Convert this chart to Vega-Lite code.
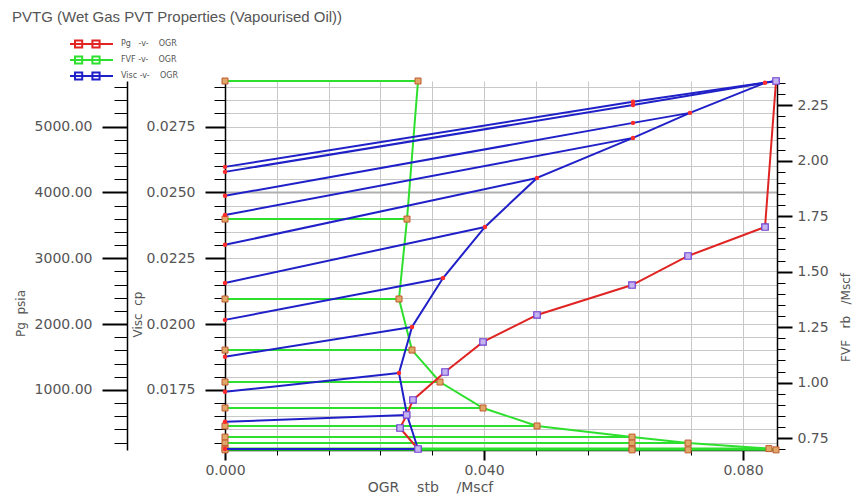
{
  "$schema": "https://vega.github.io/schema/vega-lite/v6.json",
  "width": 552,
  "height": 369,
  "autosize": "none",
  "padding": {"left": 225, "top": 81, "right": 80, "bottom": 48},
  "background": "white",
  "title": {"text": "PVTG (Wet Gas PVT Properties (Vapourised Oil))", "anchor": "start", "frame": "group", "dx": -213, "dy": -2, "offset": 0, "baseline": "alphabetic", "fontSize": 15, "font": "Liberation Sans", "fontWeight": "normal", "color": "#555"},
  "config": {"view": {"stroke": null}, "axis": {"labelOverlap": false, "labelFlush": false, "labelBound": false}},
  "datasets": {
    "pg": [
      {"k": 1, "ogr": 0.02981, "pg": 103},
      {"k": 2, "ogr": 0.02703, "pg": 422},
      {"k": 3, "ogr": 0.02806, "pg": 620},
      {"k": 4, "ogr": 0.02903, "pg": 848},
      {"k": 5, "ogr": 0.03398, "pg": 1273},
      {"k": 6, "ogr": 0.03985, "pg": 1729},
      {"k": 7, "ogr": 0.04819, "pg": 2139},
      {"k": 8, "ogr": 0.06286, "pg": 2594},
      {"k": 9, "ogr": 0.07151, "pg": 3035},
      {"k": 10, "ogr": 0.0834, "pg": 3475},
      {"k": 11, "ogr": 0.0851, "pg": 5693}
    ],
    "fvf": [
      {"p": 1, "ogr": 0, "fvf": 2.359, "sat": false},
      {"p": 1, "ogr": 0.02981, "fvf": 2.359, "sat": true},
      {"p": 2, "ogr": 0, "fvf": 1.737, "sat": false},
      {"p": 2, "ogr": 0.02811, "fvf": 1.737, "sat": true},
      {"p": 3, "ogr": 0, "fvf": 1.377, "sat": false},
      {"p": 3, "ogr": 0.02687, "fvf": 1.377, "sat": true},
      {"p": 4, "ogr": 0, "fvf": 1.147, "sat": false},
      {"p": 4, "ogr": 0.02888, "fvf": 1.147, "sat": true},
      {"p": 5, "ogr": 0, "fvf": 1.003, "sat": false},
      {"p": 5, "ogr": 0.0332, "fvf": 1.003, "sat": true},
      {"p": 6, "ogr": 0, "fvf": 0.886, "sat": false},
      {"p": 6, "ogr": 0.03985, "fvf": 0.886, "sat": true},
      {"p": 7, "ogr": 0, "fvf": 0.805, "sat": false},
      {"p": 7, "ogr": 0.04819, "fvf": 0.805, "sat": true},
      {"p": 8, "ogr": 0, "fvf": 0.755, "sat": false},
      {"p": 8, "ogr": 0.06286, "fvf": 0.755, "sat": true},
      {"p": 9, "ogr": 0, "fvf": 0.728, "sat": false},
      {"p": 9, "ogr": 0.06286, "fvf": 0.728, "sat": false},
      {"p": 9, "ogr": 0.07151, "fvf": 0.728, "sat": true},
      {"p": 10, "ogr": 0, "fvf": 0.703, "sat": false},
      {"p": 10, "ogr": 0.06286, "fvf": 0.703, "sat": false},
      {"p": 10, "ogr": 0.0840, "fvf": 0.703, "sat": true},
      {"p": 11, "ogr": 0, "fvf": 0.6975, "sat": false},
      {"p": 11, "ogr": 0.06286, "fvf": 0.6975, "sat": false},
      {"p": 11, "ogr": 0.07151, "fvf": 0.6975, "sat": false},
      {"p": 11, "ogr": 0.0851, "fvf": 0.6975, "sat": true}
    ],
    "visc": [
      {"p": 1, "ogr": 0, "visc": 0.01526, "sat": false},
      {"p": 1, "ogr": 0.02981, "visc": 0.01526, "sat": true},
      {"p": 2, "ogr": 0, "visc": 0.01629, "sat": false},
      {"p": 2, "ogr": 0.02811, "visc": 0.01655, "sat": true},
      {"p": 3, "ogr": 0, "visc": 0.01743, "sat": false},
      {"p": 3, "ogr": 0.02687, "visc": 0.01814, "sat": true},
      {"p": 4, "ogr": 0, "visc": 0.01876, "sat": false},
      {"p": 4, "ogr": 0.02888, "visc": 0.01989, "sat": true},
      {"p": 5, "ogr": 0, "visc": 0.02016, "sat": false},
      {"p": 5, "ogr": 0.03367, "visc": 0.02175, "sat": true},
      {"p": 6, "ogr": 0, "visc": 0.02156, "sat": false},
      {"p": 6, "ogr": 0.04015, "visc": 0.02369, "sat": true},
      {"p": 7, "ogr": 0, "visc": 0.02301, "sat": false},
      {"p": 7, "ogr": 0.04819, "visc": 0.02555, "sat": true},
      {"p": 8, "ogr": 0, "visc": 0.02414, "sat": false},
      {"p": 8, "ogr": 0.06301, "visc": 0.02707, "sat": true},
      {"p": 9, "ogr": 0, "visc": 0.02487, "sat": false},
      {"p": 9, "ogr": 0.06301, "visc": 0.02764, "sat": false},
      {"p": 9, "ogr": 0.07181, "visc": 0.02802, "sat": true},
      {"p": 10, "ogr": 0, "visc": 0.02578, "sat": false},
      {"p": 10, "ogr": 0.06301, "visc": 0.02832, "sat": false},
      {"p": 10, "ogr": 0.0834, "visc": 0.02916, "sat": true},
      {"p": 11, "ogr": 0, "visc": 0.02597, "sat": false},
      {"p": 11, "ogr": 0.06301, "visc": 0.02844, "sat": false},
      {"p": 11, "ogr": 0.0851, "visc": 0.02923, "sat": true}
    ]
  },
  "layer": [
    {
      "data": {"name": "fvf"},
      "encoding": {
        "x": {"field": "ogr", "type": "quantitative", "scale": {"domain": [0, 0.08525], "nice": false, "zero": false},
          "axis": {"title": "OGR\u00a0\u00a0\u00a0\u00a0stb\u00a0\u00a0\u00a0\u00a0/Mscf", "values": [0,0.002,0.004,0.006,0.008,0.01,0.012,0.014,0.016,0.018,0.02,0.022,0.024,0.026,0.028,0.03,0.032,0.034,0.036,0.038,0.04,0.042,0.044,0.046,0.048,0.05,0.052,0.054,0.056,0.058,0.06,0.062,0.064,0.066,0.068,0.07,0.072,0.074,0.076,0.078,0.08,0.082,0.084],
            "labelExpr": "(round(datum.value*1000)%20===0) ? format(datum.value,'.3f') : ''",
            "grid": true, "gridColor": "#c8c8c8", "gridWidth": 1,
            "tickSize": {"condition": {"test": "round(datum.value*1000)%20===0", "value": 10}, "value": 5},
            "tickWidth": {"condition": {"test": "round(datum.value*1000)%20===0", "value": 2}, "value": 1},
            "tickColor": "#000", "domainColor": "#000", "domainWidth": 1.5,
            "labelFont": "DejaVu Sans", "labelFontSize": 14, "labelColor": "#555", "labelPadding": 3,
            "titleFont": "DejaVu Sans", "titleFontSize": 14, "titleFontWeight": "normal", "titleColor": "#555",
            "titleX": 205, "titleY": 37, "titleAlign": "center", "titleBaseline": "middle"}},
        "y": {"field": "fvf", "type": "quantitative", "scale": {"domain": [0.6968, 2.359], "nice": false, "zero": false},
          "axis": {"orient": "right", "title": "FVF\u00a0\u00a0\u00a0rb\u00a0\u00a0\u00a0/Mscf",
            "values": [0.7,0.75,0.8,0.85,0.9,0.95,1,1.05,1.1,1.15,1.2,1.25,1.3,1.35,1.4,1.45,1.5,1.55,1.6,1.65,1.7,1.75,1.8,1.85,1.9,1.95,2,2.05,2.1,2.15,2.2,2.25,2.3,2.35],
            "labelExpr": "(round(datum.value*100)%25===0) ? format(datum.value,'.2f') : ''",
            "grid": false,
            "tickSize": {"condition": {"test": "round(datum.value*100)%25===0", "value": 15}, "value": 8},
            "tickWidth": {"condition": {"test": "round(datum.value*100)%25===0", "value": 2}, "value": 1},
            "tickColor": "#000", "domainColor": "#000", "domainWidth": 1.5,
            "labelFont": "DejaVu Sans", "labelFontSize": 14, "labelColor": "#555", "labelPadding": 5,
            "titleFont": "DejaVu Sans", "titleFontSize": 12, "titleFontWeight": "normal", "titleColor": "#555",
            "titleAngle": 270, "titleX": 68, "titleY": 236, "titleAlign": "center", "titleBaseline": "middle"}}
      },
      "layer": [
        {"mark": {"type": "line", "strokeWidth": 2},
         "encoding": {"detail": {"field": "p", "type": "nominal"}, "order": {"field": "ogr", "type": "quantitative"},
           "color": {"datum": "FVF\u00a0-v-\u00a0\u00a0\u00a0\u00a0OGR", "type": "nominal",
             "scale": {"domain": ["Pg\u00a0\u00a0\u00a0-v-\u00a0\u00a0\u00a0\u00a0OGR", "FVF\u00a0-v-\u00a0\u00a0\u00a0\u00a0OGR", "Visc\u00a0-v-\u00a0\u00a0\u00a0\u00a0OGR"], "range": ["#e02424", "#2ee02e", "#2020c8"]},
             "legend": {"orient": "none", "legendX": -122, "legendY": -42, "title": null, "padding": 0,
               "symbolType": "M-9.5,0H1.25M-8.25,-0.9h1.8v1.8h-1.8zM-3.9,-0.9h1.8v1.8h-1.8z", "symbolSize": 64, "symbolStrokeWidth": 2,
               "labelFont": "DejaVu Sans", "labelFontSize": 8, "labelColor": "#555", "labelOffset": 8, "rowPadding": 0}}}},
        {"transform": [{"filter": "datum.sat"}], "mark": {"type": "line", "strokeWidth": 2},
         "encoding": {"order": {"field": "p", "type": "quantitative"}, "color": {"datum": "FVF\u00a0-v-\u00a0\u00a0\u00a0\u00a0OGR", "type": "nominal"}}},
        {"mark": {"type": "point", "shape": "square", "size": 36, "filled": true, "fill": "#e0a868", "stroke": "#c05a30", "strokeWidth": 1, "opacity": 1}}
      ]
    },
    {
      "data": {"name": "visc"},
      "encoding": {
        "x": {"field": "ogr", "type": "quantitative"},
        "y": {"field": "visc", "type": "quantitative", "scale": {"domain": [0.01522, 0.02923], "nice": false, "zero": false},
          "axis": {"orient": "left", "offset": 0, "title": "Visc\u00a0\u00a0cp",
            "values": [0.0155,0.016,0.0165,0.017,0.0175,0.018,0.0185,0.019,0.0195,0.02,0.0205,0.021,0.0215,0.022,0.0225,0.023,0.0235,0.024,0.0245,0.025,0.0255,0.026,0.0265,0.027,0.0275,0.028,0.0285,0.029],
            "labelExpr": "(round(datum.value*10000)%25===0) ? format(datum.value,'.4f') : ''",
            "grid": false,
            "tickSize": {"condition": {"test": "round(datum.value*10000)%25===0", "value": 20}, "value": 11},
            "tickWidth": {"condition": {"test": "round(datum.value*10000)%25===0", "value": 2}, "value": 1},
            "tickColor": "#000", "domainColor": "#000", "domainWidth": 1.5,
            "labelFont": "DejaVu Sans", "labelFontSize": 14, "labelColor": "#555", "labelPadding": 10,
            "titleFont": "DejaVu Sans", "titleFontSize": 12, "titleFontWeight": "normal", "titleColor": "#555",
            "titleAngle": 270, "titleX": -88, "titleY": 233, "titleAlign": "center", "titleBaseline": "middle"}}
      },
      "layer": [
        {"mark": {"type": "line", "strokeWidth": 2},
         "encoding": {"detail": {"field": "p", "type": "nominal"}, "order": {"field": "ogr", "type": "quantitative"},
           "color": {"datum": "Visc\u00a0-v-\u00a0\u00a0\u00a0\u00a0OGR", "type": "nominal"}}},
        {"transform": [{"filter": "datum.sat"}], "mark": {"type": "line", "strokeWidth": 2},
         "encoding": {"order": {"field": "p", "type": "quantitative"}, "color": {"datum": "Visc\u00a0-v-\u00a0\u00a0\u00a0\u00a0OGR", "type": "nominal"}}},
        {"mark": {"type": "point", "shape": "circle", "size": 20, "filled": true, "color": "#ff2a2a", "opacity": 1}}
      ]
    },
    {
      "data": {"name": "pg"},
      "encoding": {
        "x": {"field": "ogr", "type": "quantitative"},
        "y": {"field": "pg", "type": "quantitative", "scale": {"domain": [88, 5693], "nice": false, "zero": false},
          "axis": {"orient": "left", "offset": 98, "title": "Pg\u00a0\u00a0psia",
            "values": [200,400,600,800,1000,1200,1400,1600,1800,2000,2200,2400,2600,2800,3000,3200,3400,3600,3800,4000,4200,4400,4600,4800,5000,5200,5400,5600],
            "labelExpr": "(datum.value%1000===0) ? format(datum.value,'.2f') : ''",
            "grid": true,
            "gridColor": {"condition": {"test": "datum.value===4000", "value": "#b0b0b0"}, "value": "#c8c8c8"},
            "gridWidth": {"condition": {"test": "datum.value===4000", "value": 2}, "value": 1},
            "tickSize": {"condition": {"test": "datum.value%1000===0", "value": 25}, "value": 13},
            "tickWidth": {"condition": {"test": "datum.value%1000===0", "value": 2}, "value": 1},
            "tickColor": "#000", "domainColor": "#000", "domainWidth": 1.5,
            "labelFont": "DejaVu Sans", "labelFontSize": 14, "labelColor": "#555", "labelPadding": 10,
            "titleFont": "DejaVu Sans", "titleFontSize": 12, "titleFontWeight": "normal", "titleColor": "#555",
            "titleAngle": 270, "titleX": -107, "titleY": 232, "titleAlign": "center", "titleBaseline": "middle"}}
      },
      "layer": [
        {"mark": {"type": "line", "strokeWidth": 2},
         "encoding": {"order": {"field": "k", "type": "quantitative"}, "color": {"datum": "Pg\u00a0\u00a0\u00a0-v-\u00a0\u00a0\u00a0\u00a0OGR", "type": "nominal"}}},
        {"mark": {"type": "point", "shape": "square", "size": 42, "filled": true, "fill": "#c4b4f0", "stroke": "#7040d0", "strokeWidth": 1.2, "opacity": 1}}
      ]
    }
  ],
  "resolve": {"scale": {"y": "independent"}, "axis": {"y": "independent"}}
}
